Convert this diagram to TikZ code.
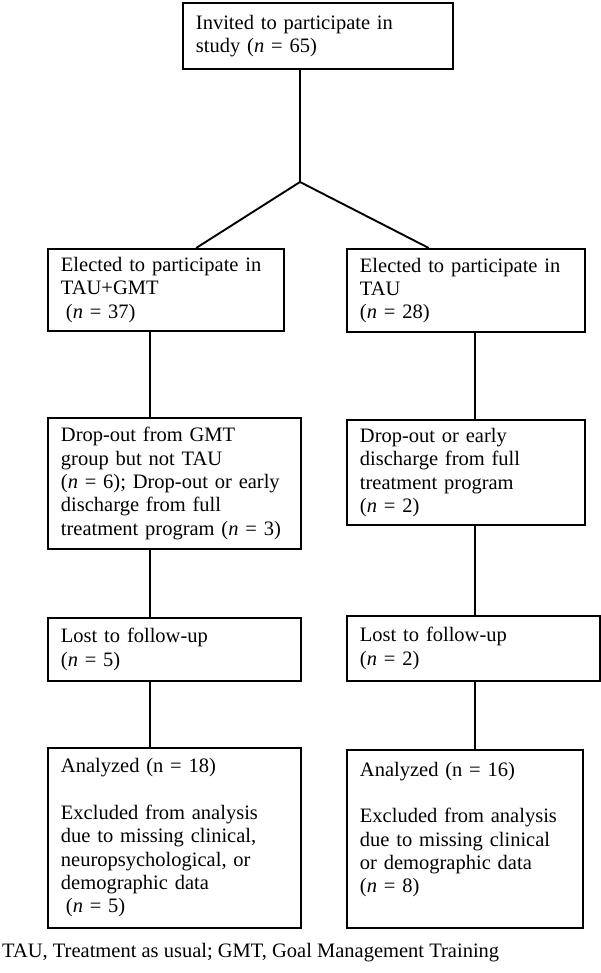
\documentclass[tikz,border=0pt]{standalone}
\usepackage{fontspec}
\setmainfont{Liberation Serif}
\usetikzlibrary{calc,positioning}

\begin{document}
\begin{tikzpicture}[x=1pt,y=1pt]
    \tikzset{
      box/.style={draw,line width=1.9pt,anchor=north west,inner xsep=13pt,
        inner ysep=0pt,align=left,font=\fontsize{20.5}{23.3}\selectfont},
      narrow/.style={box,text width=210pt},
      wide/.style={box,text width=227pt},
      link/.style={line width=1.9pt}
    }
    \useasboundingbox (0,0) rectangle (600,-973);
    \node[box,text width=244pt,minimum height=66pt] (invited) at (182,-2)
      {Invited to participate in\\ study (\textit{n} = 65)};
    % left arm: TAU+GMT
    \node[narrow,minimum height=82pt] (tgmt) at (47,-248)
      {Elected to participate in\\ TAU+GMT\\ \hspace*{5pt}(\textit{n} = 37)};
    \node[wide,minimum height=131pt] (dgmt) at (47,-417)
      {Drop-out from GMT\\ group but not TAU\\ (\textit{n} = 6); Drop-out or early\\
       discharge from full\\ treatment program (\textit{n} = 3)};
    \node[wide,minimum height=63pt] (lgmt) at (47,-617)
      {Lost to follow-up\\ (\textit{n} = 5)};
    \node[wide,minimum height=180pt] (agmt) at (47,-747)
      {Analyzed (n = 18)\\ \mbox{}\\ Excluded from analysis\\ due to missing clinical,\\
       neuropsychological, or\\ demographic data\\ \hspace*{5pt}(\textit{n} = 5)};
    % right arm: TAU
    \node[box,text width=212pt,minimum height=83pt] (tau) at (346,-248)
      {Elected to participate in\\ TAU\\ (\textit{n} = 28)};
    \node[box,text width=212pt,minimum height=105pt] (dtau) at (346,-419)
      {Drop-out or early\\ discharge from full\\ treatment program\\ (\textit{n} = 2)};
    \node[wide,minimum height=65pt] (ltau) at (346,-615)
      {Lost to follow-up\\ (\textit{n} = 2)};
    \node[narrow,minimum height=178pt] (atau) at (346,-749)
      {Analyzed (n = 16)\\ \mbox{}\\ Excluded from analysis\\ due to missing clinical\\
       or demographic data\\ (\textit{n} = 8)\\ \mbox{}};
    \node[anchor=base west,inner sep=0pt,font=\fontsize{20.5}{23.3}\selectfont]
      (note) at (2,-957) {TAU, Treatment as usual; GMT, Goal Management Training};
    % connectors
    \coordinate (apex) at (300,-182);
    \coordinate (lcol) at (150,0);
    \coordinate (rcol) at (475,0);
    \draw[link] (invited.south -| apex) -- (apex);
    \draw[link] ($(tgmt.north west)!0.627!(tgmt.north east)$) -- (apex)
      -- ($(tau.north west)!0.345!(tau.north east)$);
    \foreach \a/\b in {tgmt/dgmt,dgmt/lgmt,lgmt/agmt}
      \draw[link] (\a.south -| lcol) -- (\b.north -| lcol);
    \foreach \a/\b in {tau/dtau,dtau/ltau,ltau/atau}
      \draw[link] (\a.south -| rcol) -- (\b.north -| rcol);
\end{tikzpicture}
\end{document}
